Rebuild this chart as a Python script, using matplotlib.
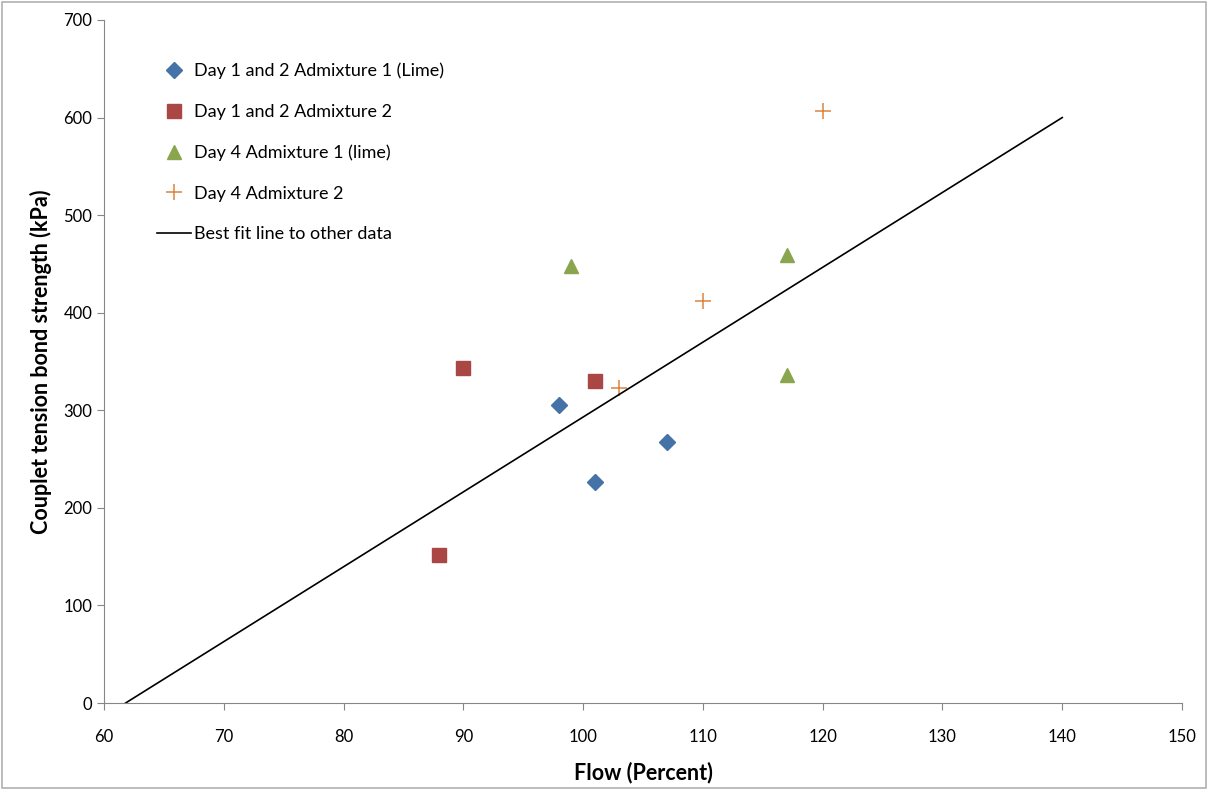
import matplotlib.pyplot as plt
from matplotlib.patches import Rectangle

plt.rcParams['font.family'] = ['Lato', 'DejaVu Sans']

# Day 1 and 2 Admixture 1 (Lime)
d12_a1_x = [98, 101, 107]
d12_a1_y = [305, 226, 268]
# Day 1 and 2 Admixture 2
d12_a2_x = [90, 101, 88]
d12_a2_y = [343, 330, 152]
# Day 4 Admixture 1 (lime)
d4_a1_x = [99, 117, 117]
d4_a1_y = [448, 459, 336]
# Day 4 Admixture 2
d4_a2_x = [103, 110, 120]
d4_a2_y = [323, 412, 607]
# Best fit line to other data
fit_x = [61.8, 140]
fit_y = [0, 600]

fig = plt.figure(figsize=(12.08, 7.9), dpi=100)
ax = fig.add_axes([0.0861, 0.1101, 0.8924, 0.8646])

# light frame around the whole chart
fig.patches.append(Rectangle((0.002, 0.002), 0.996, 0.996, transform=fig.transFigure,
                             fill=False, edgecolor='#b0b0b0', linewidth=1.2))

ax.plot(d12_a1_x, d12_a1_y, linestyle='none', marker='D', markersize=8,
        color='#4572A7', label='Day 1 and 2 Admixture 1 (Lime)')
ax.plot(d12_a2_x, d12_a2_y, linestyle='none', marker='s', markersize=9.5,
        color='#AA4643', label='Day 1 and 2 Admixture 2')
ax.plot(d4_a1_x, d4_a1_y, linestyle='none', marker='^', markersize=9.5,
        color='#89A54E', label='Day 4 Admixture 1 (lime)')
ax.plot(d4_a2_x, d4_a2_y, linestyle='none', marker='+', markersize=12,
        markeredgewidth=1.1, color='#DB843D', label='Day 4 Admixture 2')
ax.plot(fit_x, fit_y, color='black', linewidth=1.2, label='Best fit line to other data')

ax.set_xlim(60, 150)
ax.set_ylim(0, 700)
ax.set_xticks(range(60, 151, 10))
ax.set_yticks(range(0, 701, 100))

for s in ['top', 'right']:
    ax.spines[s].set_visible(False)
for s in ['left', 'bottom']:
    ax.spines[s].set_color('#868686')
ax.tick_params(colors='#868686', labelcolor='black', labelsize=12, length=5)
ax.tick_params(axis='x', pad=14)

ax.set_xlabel('Flow (Percent)', fontsize=15.5, fontweight='bold', labelpad=12)
ax.set_ylabel('Couplet tension bond strength (kPa)', fontsize=15.5, fontweight='bold', labelpad=8)

ax.legend(loc='upper left', bbox_to_anchor=(0.0427, 0.948), frameon=False, fontsize=13,
          handlelength=1.85, handletextpad=0.2, labelspacing=1.36, borderaxespad=0)

fig.savefig('out.png', dpi=100)
